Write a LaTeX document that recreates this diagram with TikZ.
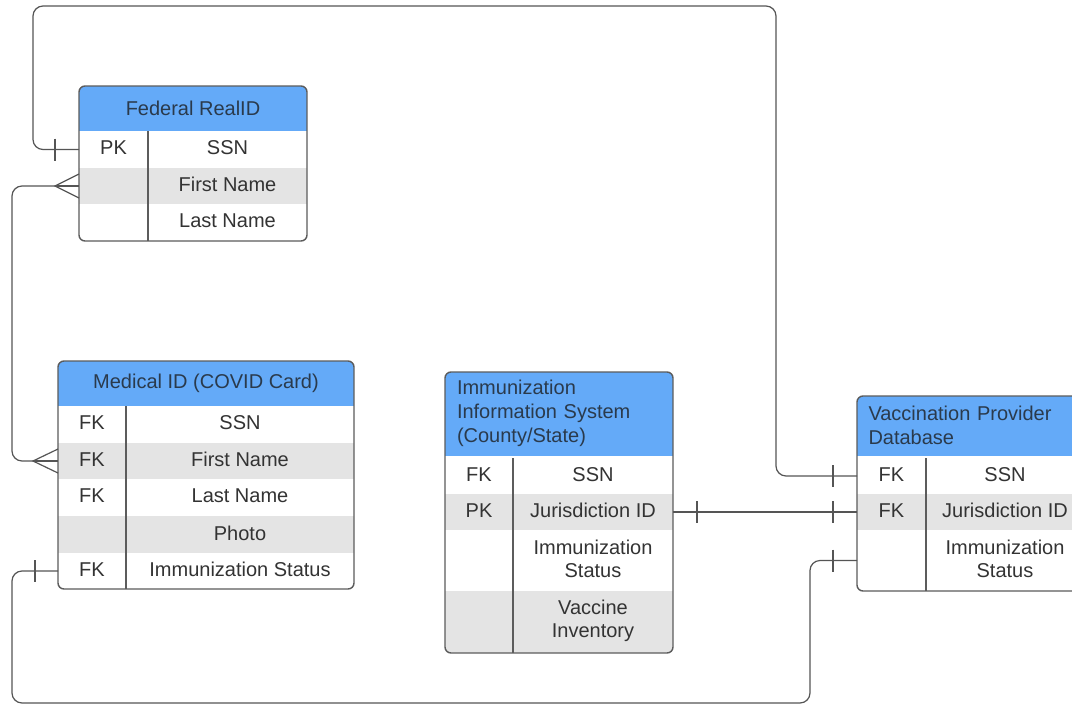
\documentclass[tikz,border=0pt]{standalone}
\usepackage{fontspec}
\setmainfont{Liberation Sans}
\usetikzlibrary{calc}

\definecolor{hdrblue}{HTML}{64AAF8}
\definecolor{rowgray}{HTML}{E4E4E4}
\definecolor{edgegray}{HTML}{5C5C5C}
\definecolor{linegray}{HTML}{555555}
\definecolor{txtgray}{HTML}{333333}
\definecolor{hdrtxt}{HTML}{2A3A4C}

\tikzset{
  rowbox/.style={draw=none, inner sep=0pt, outer sep=0pt},
  celltext/.style={inner sep=0pt, text=txtgray, align=center, yshift=1.5pt,
    font=\fontsize{20}{23}\selectfont},
  hdrbox/.style={fill=hdrblue, inner sep=0pt, outer sep=0pt, text=hdrtxt,
    font=\fontsize{20}{24}\selectfont},
  tabedge/.style={draw=edgegray, line width=1.4pt, rounded corners=6pt},
  divider/.style={draw=edgegray, line width=1.1pt},
  conn/.style={draw=linegray, line width=1.2pt, rounded corners=10pt},
  endmark/.style={draw=linegray, line width=1.2pt},
}

% one table row: name, x left, x divider, x right, y top, y bottom, fill, key, field
\newcommand\errow[9]{%
  \node[rowbox, fill=#7, minimum width={(#4-#2)*1pt}, minimum height={(#6-#5)*1pt}]
    (#1) at ({(#2+#4)/2},{(#5+#6)/2}) {};
  \node[celltext] (#1-k) at ({(#2+#3)/2},{(#5+#6)/2}) {#8};
  \node[celltext] (#1-f) at ({(#3+#4)/2},{(#5+#6)/2}) {#9};
}

\begin{document}
\begin{tikzpicture}[x=1pt,y=-1pt]
\useasboundingbox (0,0) rectangle (1072,705);
\clip (0,0) rectangle (1072,705);
\fill[white] (0,0) rectangle (1072,705);

% ---------- Federal RealID ----------
\begin{scope}
  \clip[rounded corners=6pt] (79,86) rectangle (307,241);
  \node[hdrbox, minimum width=228pt, minimum height=45pt] (fr-head) at (193,108.5) {Federal RealID};
  \errow{fr-ssn}{79}{148}{307}{131}{168}{white}{PK}{SSN}
  \errow{fr-first}{79}{148}{307}{168}{204}{rowgray}{}{First Name}
  \errow{fr-last}{79}{148}{307}{204}{241}{white}{}{Last Name}
\end{scope}
\draw[divider] (148,131) -- (148,241);
\draw[tabedge] (79,86) rectangle (307,241);

% ---------- Medical ID ----------
\begin{scope}
  \clip[rounded corners=6pt] (58,361) rectangle (354,589);
  \node[hdrbox, minimum width=296pt, minimum height=45pt] (mi-head) at (206,383.5) {Medical ID (COVID Card)};
  \errow{mi-ssn}{58}{126}{354}{406}{443}{white}{FK}{SSN}
  \errow{mi-first}{58}{126}{354}{443}{479}{rowgray}{FK}{First Name}
  \errow{mi-last}{58}{126}{354}{479}{516}{white}{FK}{Last Name}
  \errow{mi-photo}{58}{126}{354}{516}{553}{rowgray}{}{Photo}
  \errow{mi-imm}{58}{126}{354}{553}{589}{white}{FK}{Immunization Status}
\end{scope}
\draw[divider] (126,406) -- (126,589);
\draw[tabedge] (58,361) rectangle (354,589);

% ---------- Immunization Information System ----------
\begin{scope}
  \clip[rounded corners=6pt] (445,372) rectangle (673,653);
  \node[hdrbox, minimum width=228pt, minimum height=86pt, text width=204pt, align=left]
    (iis-head) at (559,413) {Immunization\\Information System\\(County/State)};
  \errow{iis-ssn}{445}{513}{673}{458}{494}{white}{FK}{SSN}
  \errow{iis-jur}{445}{513}{673}{494}{530}{rowgray}{PK}{Jurisdiction ID}
  \errow{iis-imm}{445}{513}{673}{530}{591}{white}{}{Immunization\\Status}
  \errow{iis-vac}{445}{513}{673}{591}{653}{rowgray}{}{Vaccine\\Inventory}
\end{scope}
\draw[divider] (513,458) -- (513,653);
\draw[tabedge] (445,372) rectangle (673,653);

% ---------- Vaccination Provider Database ----------
\begin{scope}
  \clip[rounded corners=6pt] (857,396) rectangle (1084,591);
  \node[hdrbox, minimum width=227pt, minimum height=62pt, text width=204pt, align=left]
    (vp-head) at (970.5,425) {Vaccination Provider\\Database};
  \errow{vp-ssn}{857}{926}{1084}{458}{494}{white}{FK}{SSN}
  \errow{vp-jur}{857}{926}{1084}{494}{530}{rowgray}{FK}{Jurisdiction ID}
  \errow{vp-imm}{857}{926}{1084}{530}{591}{white}{}{Immunization\\Status}
\end{scope}
\draw[divider] (926,458) -- (926,591);
\draw[tabedge] (857,396) rectangle (1084,591);

% ---------- relationships ----------
% Federal SSN  ->  Vaccination provider SSN (over the top)
\draw[conn] (fr-ssn.west) -| (33,6) -| ([xshift=-81pt]vp-ssn.west) -- (vp-ssn.west);
\draw[endmark] ([xshift=-24pt]fr-ssn.west) ++(0,-11) -- ++(0,22);
\draw[endmark] ([xshift=-24pt]vp-ssn.west) ++(0,-11) -- ++(0,22);

% Federal first name  ->  Medical first name (many to many)
\draw[conn] ([xshift=-24pt]fr-first.west) -| ([xshift=-46pt]mi-first.west) -- ([xshift=-25pt]mi-first.west);
\draw[endmark] ([yshift=12pt]fr-first.west) -- ([xshift=-24pt]fr-first.west) -- ([yshift=-12pt]fr-first.west);
\draw[endmark] ([xshift=-24pt]fr-first.west) -- (fr-first.west);
\draw[endmark] ([yshift=12pt]mi-first.west) -- ([xshift=-25pt]mi-first.west) -- ([yshift=-12pt]mi-first.west);
\draw[endmark] ([xshift=-25pt]mi-first.west) -- (mi-first.west);

% Medical immunization status  ->  Vaccination provider immunization status (underneath)
\draw[conn] (mi-imm.west) -| (12,703) -| ([xshift=-47pt]vp-imm.west) -- (vp-imm.west);
\draw[endmark] ([xshift=-23pt]mi-imm.west) ++(0,-11) -- ++(0,22);
\draw[endmark] ([xshift=-24pt]vp-imm.west) ++(0,-11) -- ++(0,22);

% Jurisdiction ID  ->  Jurisdiction ID
\draw[conn] (iis-jur.east) -- (vp-jur.west);
\draw[endmark] ([xshift=24pt]iis-jur.east) ++(0,-11) -- ++(0,22);
\draw[endmark] ([xshift=-24pt]vp-jur.west) ++(0,-11) -- ++(0,22);
\end{tikzpicture}
\end{document}
